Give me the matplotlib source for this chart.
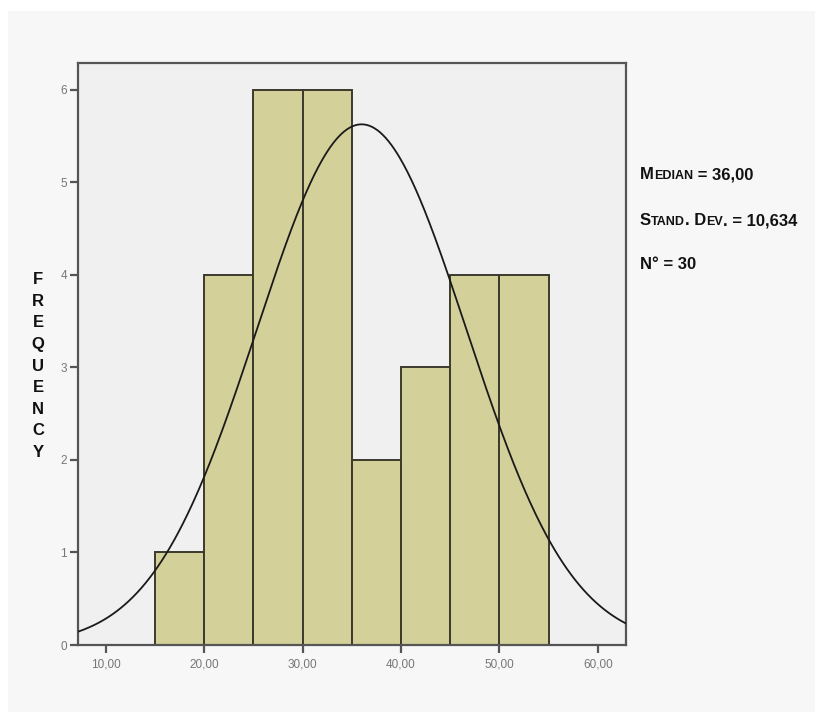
import numpy as np
import matplotlib
matplotlib.use("Agg")
import matplotlib.pyplot as plt
from matplotlib.patches import Rectangle
from matplotlib.text import Annotation

# histogram data (bin edges and counts)
bin_edges = [15, 20, 25, 30, 35, 40, 45, 50, 55]
counts = [1, 4, 6, 6, 2, 3, 4, 4]
x_ticks = [10, 20, 30, 40, 50, 60]
x_tick_labels = ["10,00", "20,00", "30,00", "40,00", "50,00", "60,00"]
y_ticks = [0, 1, 2, 3, 4, 5, 6]

# summary stats shown on the right
mean_val = 36.00
sd_val = 10.634
n_val = 30

plt.rcParams["font.family"] = ["Liberation Sans", "DejaVu Sans"]


def comma(v, nd):
    return f"{v:.{nd}f}".replace(".", ",")


fig = plt.figure(figsize=(8.23, 7.22), dpi=100)
fig.patch.set_facecolor("white")
fig.patches.append(Rectangle((8 / 823, 10 / 722), 807 / 823, 701 / 722,
                             transform=fig.transFigure, facecolor="#f7f7f7",
                             edgecolor="none", zorder=-10))

ax = fig.add_axes([78 / 823, 77 / 722, 548 / 823, 582 / 722])
ax.set_facecolor("#f0f0f0")

widths = np.diff(bin_edges)
ax.bar(bin_edges[:-1], counts, width=widths, align="edge",
       color="#d4d09a", edgecolor="#3b3a2c", linewidth=1.4, zorder=2)

# fitted normal curve from mean / sd / n and bin width
xs = np.linspace(7.2, 62.85, 400)
bw = widths[0]
ys = n_val * bw / (sd_val * np.sqrt(2 * np.pi)) * np.exp(-0.5 * ((xs - mean_val) / sd_val) ** 2)
ax.plot(xs, ys, color="#1a1a1a", linewidth=1.3, zorder=3)

ax.set_xlim(7.2, 62.85)
ax.set_ylim(0, 6.29)
ax.set_xticks(x_ticks)
ax.set_xticklabels(x_tick_labels)
ax.set_yticks(y_ticks)
ax.tick_params(axis="both", direction="out", length=6, width=1.6,
               color="#555555", labelcolor="#777777", labelsize=8.5)
ax.tick_params(axis="y", pad=2)
for s in ax.spines.values():
    s.set_color("#555555")
    s.set_linewidth(1.6)

# vertical stacked y-label
fig.text(38 / 823, 1 - 366 / 722, "\n".join("FREQUENCY"), ha="center", va="center",
         fontsize=12, fontweight="heavy", linespacing=1.55, color="#111111")


def line(y, parts, x=640 / 823):
    # fake small caps: chain text pieces of different sizes left to right
    prev = fig.text(x, y, parts[0][0], fontsize=parts[0][1], fontweight="bold",
                    color="#111111", va="bottom")
    for txt, size in parts[1:]:
        prev = fig.add_artist(Annotation(
            txt, xy=(1, 0), xycoords=prev, va="bottom", fontsize=size,
            fontweight="bold", color="#111111", annotation_clip=False))


line(1 - 182 / 722, [("M", 12), ("EDIAN", 9), (" = " + comma(mean_val, 2), 12)])
line(1 - 228 / 722, [("S", 12), ("TAND", 9), (". D", 12), ("EV", 9),
                     (". = " + comma(sd_val, 3), 12)])
line(1 - 272 / 722, [("N° = %d" % n_val, 12)])

fig.savefig("out.png", dpi=100, facecolor=fig.get_facecolor())
